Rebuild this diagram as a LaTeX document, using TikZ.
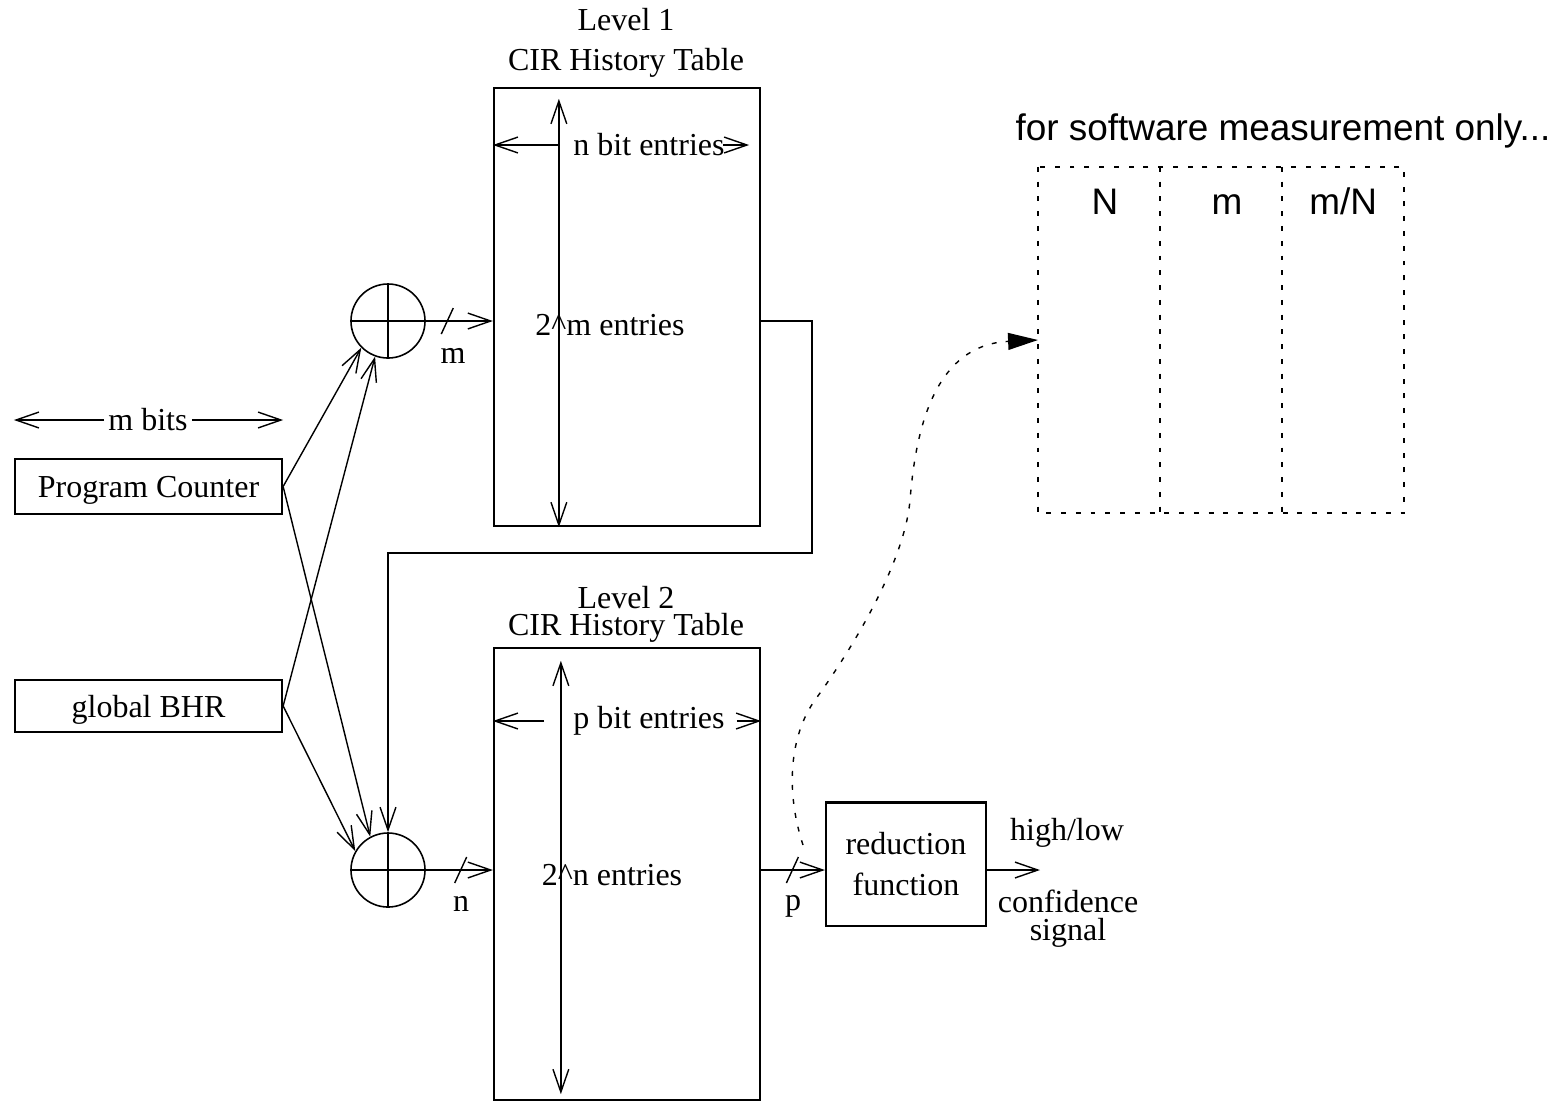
\documentclass[tikz,border=0pt]{standalone}
\usepackage{fontspec}
\setmainfont{Liberation Serif}
\setsansfont{Liberation Sans}
\usetikzlibrary{arrows.meta,positioning,calc}

\begin{document}
\begin{tikzpicture}[x=0.01cm, y=-0.01cm, >={Straight Barb[length=6.5pt,width=4.5pt]},
	font=\fontsize{9.1}{10}\selectfont,
	box/.style={rectangle, draw, line width=0.6pt, inner sep=0pt},
	xor/.style={circle, draw, line width=0.45pt, minimum size=0.74cm, inner sep=0pt},
	col/.style={rectangle, minimum width=1.22cm, minimum height=3.46cm, inner sep=0pt, outer sep=0pt},
	dashline/.style={dash pattern=on 1.4pt off 2.8pt},
	dotline/.style={dash pattern=on 1.4pt off 2.6pt, -{Triangle[length=8.5pt,width=4.8pt]}},
	sw/.style={font=\sffamily\fontsize{10.5}{12}\selectfont}]
	\useasboundingbox (0,0) rectangle (1564,1105);

	% tables
	\node[box, minimum width=2.66cm, minimum height=4.38cm] (t1) at (627,307) {};
	\node[box, minimum width=2.66cm, minimum height=4.52cm] (t2) at (627,874) {};
	\node (l1) at (626,20) {Level 1};
	\node (h1) at (626,63) {CIR History Table};
	\node (l2) at (626,598) {Level 2};
	\node (h2) at (626,628) {CIR History Table};
	\node (e1) at (610,325) {2\^{}m entries};
	\node (e2) at (612,875) {2\^{}n entries};
	\node (nb) at (649,145) {n bit entries};
	\node (pb) at (649,721) {p bit entries};

	\draw[<->] ($(t1.north west)+(66,12)$) coordinate (v1) -- ($(t1.south west)+(66,0)$);
	\draw[->] (v1 |- nb) -- (t1.west |- nb);
	\draw[->] ($(nb.east)+(-14,0)$) -- ($(t1.east |- nb)+(-12,0)$);
	\draw[<->] ($(t2.north west)+(68,14)$) -- ($(t2.south west)+(68,-7)$);
	\draw[->] ($(pb.west)+(-17,0)$) -- (t2.west |- pb);
	\draw[->] (pb.east) -- (t2.east |- pb);

	% inputs
	\node[box, minimum width=2.67cm, minimum height=0.55cm, text depth=0pt] (pc) at (148.5,486.5) {Program Counter};
	\node[box, minimum width=2.67cm, minimum height=0.52cm, text depth=0pt] (bhr) at (148.5,706) {global BHR};
	\node[inner sep=1pt] (mbits) at (148,420) {m bits};
	\draw[->] (mbits.west) -- (pc.west |- mbits);
	\draw[->] (mbits.east) -- (pc.east |- mbits);

	% xor circles
	\node[xor] (x1) at (388,321) {};
	\node[xor] (x2) at (388,870) {};
	\draw (x1.west) -- (x1.east) (x1.north) -- (x1.south);
	\draw (x2.west) -- (x2.east) (x2.north) -- (x2.south);

	\path
		(pc.east) edge[->] (x1.225)
		(bhr.east) edge[->] (x1.250)
		(pc.east) edge[->] (x2.118)
		(bhr.east) edge[->] (x2.150)
	;

	\draw[->] (x1.east) -- coordinate[pos=0.32] (s1) (x1.east -| t1.west);
	\draw (s1) ++(-6,13) -- ++(12,-26);
	\node (m) at (453,356) {m};
	\draw[->] (x2.east) -- coordinate[pos=0.52] (s2) (x2.east -| t2.west);
	\draw (s2) ++(-6,13) -- ++(12,-26);
	\node (n) at (461,904) {n};

	% feedback from level 1
	\draw[->] (t1.east |- x1) -| ++(51,232) -| (x2.north);

	% reduction
	\node[box, minimum width=1.60cm, minimum height=1.23cm, align=center, font=\fontsize{9.1}{11.7}\selectfont] (red) at (906,864) {reduction\\function};
	\draw[->] (t2.east |- x2) -- coordinate[pos=0.49] (s3) (red.west |- x2);
	\draw (s3) ++(-6,13) -- ++(12,-26);
	\node (p) at (793,906) {p};
	\coordinate (out) at (1040,870);
	\draw[->] (red.east |- x2) -- (out);
	\node (hl) at (1067,833) {high/low};
	\node[align=center, font=\fontsize{9.1}{8}\selectfont] (cs) at (1068,919) {confidence\\signal};

	% software measurement
	\node[sw] (title) at (1283,131) {for software measurement only...};
	\node[col] (c1) at (1099,340) {};
	\node[col, right=0pt of c1] (c2) {};
	\node[col, right=0pt of c2] (c3) {};
	\draw[dashline] (c1.north west) rectangle (c3.south east);
	\draw[dashline] (c2.north west) -- (c2.south west);
	\draw[dashline] (c3.north west) -- (c3.south west);
	\node[sw, anchor=base] (tn) at ($(c1.north)+(6,48)$) {N};
	\node[sw, anchor=base] (tm) at ($(c2.north)+(6,48)$) {m};
	\node[sw, anchor=base] (tmn) at ($(c3.north)+(0,48)$) {m/N};

	\coordinate (tap) at (803,845);
	\draw[dotline] (tap) .. controls (785,790) and (790,735) .. (815,700)
		.. controls (855,645) and (905,560) .. (910,500)
		.. controls (915,440) and (930,345) .. (c1.west);
\end{tikzpicture}
\end{document}
